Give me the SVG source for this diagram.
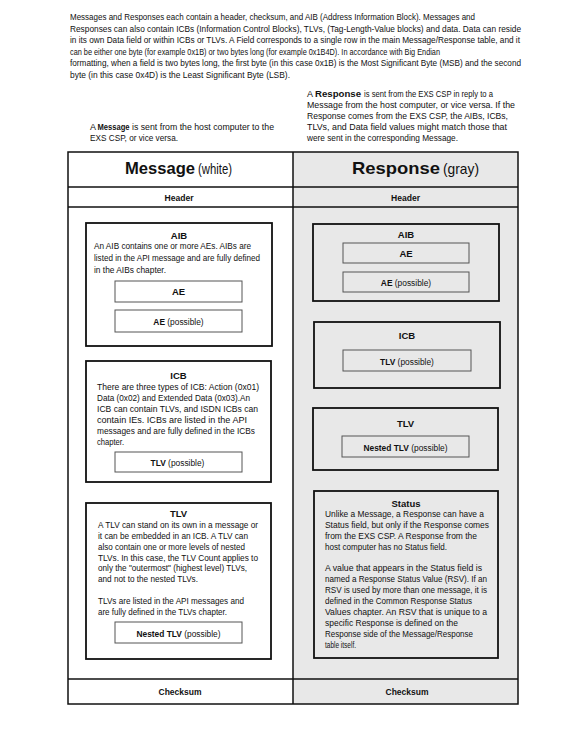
<svg xmlns="http://www.w3.org/2000/svg" width="582" height="752" viewBox="0 0 582 752">
<style>
text{font-family:"Liberation Sans",Arial,sans-serif;fill:#111;}
.p{font-size:9px;}
.b{font-size:9.5px;}
.t{font-size:9.5px;font-weight:bold;text-anchor:middle;}
.s{font-size:8.4px;text-anchor:middle;}
.bd{font-weight:bold;}
.hd{font-size:9px;font-weight:bold;text-anchor:middle;}
.box{fill:none;stroke:#111;stroke-width:1.8;}
.sub{fill:none;stroke:#555;stroke-width:1;}
.line{stroke:#111;stroke-width:1.5;}
</style>
<rect width="582" height="752" fill="#fff"/>
<g id="intro">
<text class="p" x="70" y="20" textLength="405" lengthAdjust="spacingAndGlyphs">Messages and Responses each contain a header, checksum, and AIB (Address Information Block). Messages and</text>
<text class="p" x="70" y="31.5" textLength="451" lengthAdjust="spacingAndGlyphs">Responses can also contain ICBs (Information Control Blocks), TLVs, (Tag-Length-Value blocks) and data. Data can reside</text>
<text class="p" x="70" y="43" textLength="450" lengthAdjust="spacingAndGlyphs">in its own Data field or within ICBs or TLVs. A Field corresponds to a single row in the main Message/Response table, and it</text>
<text class="p" x="70" y="54.5" textLength="370" lengthAdjust="spacingAndGlyphs">can be either one byte (for example 0x1B) or two bytes long (for example 0x1B4D). In accordance with Big Endian</text>
<text class="p" x="70" y="66" textLength="451" lengthAdjust="spacingAndGlyphs">formatting, when a field is two bytes long, the first byte (in this case 0x1B) is the Most Significant Byte (MSB) and the second</text>
<text class="p" x="70" y="77.5" textLength="220" lengthAdjust="spacingAndGlyphs">byte (in this case 0x4D) is the Least Significant Byte (LSB).</text>
<text class="p" x="90" y="130">A</text>
<text class="p bd" x="97.5" y="130" textLength="32" lengthAdjust="spacingAndGlyphs">Message</text>
<text class="p" x="132" y="130" textLength="142" lengthAdjust="spacingAndGlyphs">is sent from the host computer to the</text>
<text class="p" x="90" y="141" textLength="88" lengthAdjust="spacingAndGlyphs">EXS CSP, or vice versa.</text>
<text class="p" x="307" y="97">A</text>
<text class="p bd" x="315" y="97" textLength="46" lengthAdjust="spacingAndGlyphs">Response</text>
<text class="p" x="364" y="97" textLength="129" lengthAdjust="spacingAndGlyphs">is sent from the EXS CSP in reply to a</text>
<text class="p" x="307" y="108" textLength="208" lengthAdjust="spacingAndGlyphs">Message from the host computer, or vice versa. If the</text>
<text class="p" x="307" y="119" textLength="201" lengthAdjust="spacingAndGlyphs">Response comes from the EXS CSP, the AIBs, ICBs,</text>
<text class="p" x="307" y="130" textLength="200" lengthAdjust="spacingAndGlyphs">TLVs, and Data field values might match those that</text>
<text class="p" x="307" y="141" textLength="151" lengthAdjust="spacingAndGlyphs">were sent in the corresponding Message.</text>
</g>
<g id="table">
<rect x="293" y="152" width="225" height="552" fill="#e8e8e8"/>
<rect x="68" y="152" width="450" height="552" fill="none" stroke="#111" stroke-width="1.5"/>
<line class="line" x1="293" y1="152" x2="293" y2="704"/>
<line class="line" x1="68" y1="187" x2="518" y2="187"/>
<line class="line" x1="68" y1="207" x2="518" y2="207"/>
<line class="line" x1="68" y1="679" x2="518" y2="679"/>
<text x="125" y="174" font-size="17" font-weight="bold" textLength="70" lengthAdjust="spacingAndGlyphs">Message</text>
<text x="198" y="174" font-size="15" textLength="34" lengthAdjust="spacingAndGlyphs">(white)</text>
<text x="352" y="174" font-size="17" font-weight="bold" textLength="88" lengthAdjust="spacingAndGlyphs">Response</text>
<text x="443" y="174" font-size="15" textLength="36" lengthAdjust="spacingAndGlyphs">(gray)</text>
<text class="hd" x="179" y="201" textLength="29" lengthAdjust="spacingAndGlyphs">Header</text>
<text class="hd" x="405.5" y="201" textLength="29" lengthAdjust="spacingAndGlyphs">Header</text>
<text class="hd" x="180" y="695" textLength="43" lengthAdjust="spacingAndGlyphs">Checksum</text>
<text class="hd" x="407" y="695" textLength="43" lengthAdjust="spacingAndGlyphs">Checksum</text>
</g>
<g id="msg-aib">
<rect class="box" x="86" y="223" width="186" height="123"/>
<text class="t" x="179" y="238.5">AIB</text>
<text class="b" x="94" y="248.5" textLength="157" lengthAdjust="spacingAndGlyphs">An AIB contains one or more AEs. AIBs are</text>
<text class="b" x="94" y="260.5" textLength="166" lengthAdjust="spacingAndGlyphs">listed in the API message and are fully defined</text>
<text class="b" x="94" y="272.5" textLength="72" lengthAdjust="spacingAndGlyphs">in the AIBs chapter.</text>
<rect class="sub" x="115" y="281" width="127" height="21"/>
<text class="t" x="178.5" y="295">AE</text>
<rect class="sub" x="115" y="310" width="127" height="22"/>
<text class="s" x="178.5" y="324.5"><tspan class="bd">AE</tspan> (possible)</text>
</g>
<g id="msg-icb">
<rect class="box" x="86" y="361" width="185" height="121"/>
<text class="t" x="178.5" y="378.5">ICB</text>
<text class="b" x="97" y="389.5" textLength="162" lengthAdjust="spacingAndGlyphs">There are three types of ICB: Action (0x01)</text>
<text class="b" x="97" y="400.6" textLength="153" lengthAdjust="spacingAndGlyphs">Data (0x02) and Extended Data (0x03).An</text>
<text class="b" x="97" y="411.7" textLength="161" lengthAdjust="spacingAndGlyphs">ICB can contain TLVs, and ISDN ICBs can</text>
<text class="b" x="97" y="422.8" textLength="150" lengthAdjust="spacingAndGlyphs">contain IEs. ICBs are listed in the API</text>
<text class="b" x="97" y="433.9" textLength="158" lengthAdjust="spacingAndGlyphs">messages and are fully defined in the ICBs</text>
<text class="b" x="97" y="445" textLength="27" lengthAdjust="spacingAndGlyphs">chapter.</text>
<rect class="sub" x="115" y="452" width="127" height="20"/>
<text class="s" x="177.5" y="465.5"><tspan class="bd">TLV</tspan> (possible)</text>
</g>
<g id="msg-tlv">
<rect class="box" x="86" y="503" width="185" height="156"/>
<text class="t" x="178.5" y="516.5">TLV</text>
<text class="b" x="98" y="527.5" textLength="160" lengthAdjust="spacingAndGlyphs">A TLV can stand on its own in a message or</text>
<text class="b" x="98" y="538.5" textLength="150" lengthAdjust="spacingAndGlyphs">it can be embedded in an ICB. A TLV can</text>
<text class="b" x="98" y="549.5" textLength="147" lengthAdjust="spacingAndGlyphs">also contain one or more levels of nested</text>
<text class="b" x="98" y="560.5" textLength="160" lengthAdjust="spacingAndGlyphs">TLVs. In this case, the TLV Count applies to</text>
<text class="b" x="98" y="571" textLength="149" lengthAdjust="spacingAndGlyphs">only the "outermost" (highest level) TLVs,</text>
<text class="b" x="98" y="582" textLength="100" lengthAdjust="spacingAndGlyphs">and not to the nested TLVs.</text>
<text class="b" x="98" y="603.5" textLength="146" lengthAdjust="spacingAndGlyphs">TLVs are listed in the API messages and</text>
<text class="b" x="98" y="614.5" textLength="129" lengthAdjust="spacingAndGlyphs">are fully defined in the TLVs chapter.</text>
<rect class="sub" x="115" y="622" width="127" height="21"/>
<text class="s" x="178.5" y="636.5"><tspan class="bd">Nested TLV</tspan> (possible)</text>
</g>
<g id="rsp-aib">
<rect class="box" x="313" y="224" width="186" height="77"/>
<text class="t" x="406" y="237.5">AIB</text>
<rect class="sub" x="343" y="243" width="126" height="20"/>
<text class="t" x="406" y="256.5">AE</text>
<rect class="sub" x="343" y="272" width="126" height="20"/>
<text class="s" x="406" y="286"><tspan class="bd">AE</tspan> (possible)</text>
</g>
<g id="rsp-icb">
<rect class="box" x="314" y="322" width="186" height="66"/>
<text class="t" x="407" y="338.5">ICB</text>
<rect class="sub" x="343" y="350" width="128" height="21"/>
<text class="s" x="407" y="364.5"><tspan class="bd">TLV</tspan> (possible)</text>
</g>
<g id="rsp-tlv">
<rect class="box" x="313" y="408" width="185" height="62"/>
<text class="t" x="405.5" y="426.5">TLV</text>
<rect class="sub" x="342" y="436" width="127" height="21"/>
<text class="s" x="405.5" y="450.5"><tspan class="bd">Nested TLV</tspan> (possible)</text>
</g>
<g id="rsp-status">
<rect class="box" x="314" y="491" width="184" height="167"/>
<text class="t" x="406" y="506.5">Status</text>
<text class="b" x="325" y="517" textLength="159" lengthAdjust="spacingAndGlyphs">Unlike a Message, a Response can have a</text>
<text class="b" x="325" y="528" textLength="164" lengthAdjust="spacingAndGlyphs">Status field, but only if the Response comes</text>
<text class="b" x="325" y="539" textLength="152" lengthAdjust="spacingAndGlyphs">from the EXS CSP. A Response from the</text>
<text class="b" x="325" y="550" textLength="122" lengthAdjust="spacingAndGlyphs">host computer has no Status field.</text>
<text class="b" x="325" y="571" textLength="157" lengthAdjust="spacingAndGlyphs">A value that appears in the Status field is</text>
<text class="b" x="325" y="582" textLength="162" lengthAdjust="spacingAndGlyphs">named a Response Status Value (RSV). If an</text>
<text class="b" x="325" y="593" textLength="162" lengthAdjust="spacingAndGlyphs">RSV is used by more than one message, it is</text>
<text class="b" x="325" y="604" textLength="147" lengthAdjust="spacingAndGlyphs">defined in the Common Response Status</text>
<text class="b" x="325" y="615" textLength="162" lengthAdjust="spacingAndGlyphs">Values chapter. An RSV that is unique to a</text>
<text class="b" x="325" y="626" textLength="133" lengthAdjust="spacingAndGlyphs">specific Response is defined on the</text>
<text class="b" x="325" y="637" textLength="148" lengthAdjust="spacingAndGlyphs">Response side of the Message/Response</text>
<text class="b" x="325" y="647.5" textLength="31" lengthAdjust="spacingAndGlyphs">table itself.</text>
</g>
</svg>
